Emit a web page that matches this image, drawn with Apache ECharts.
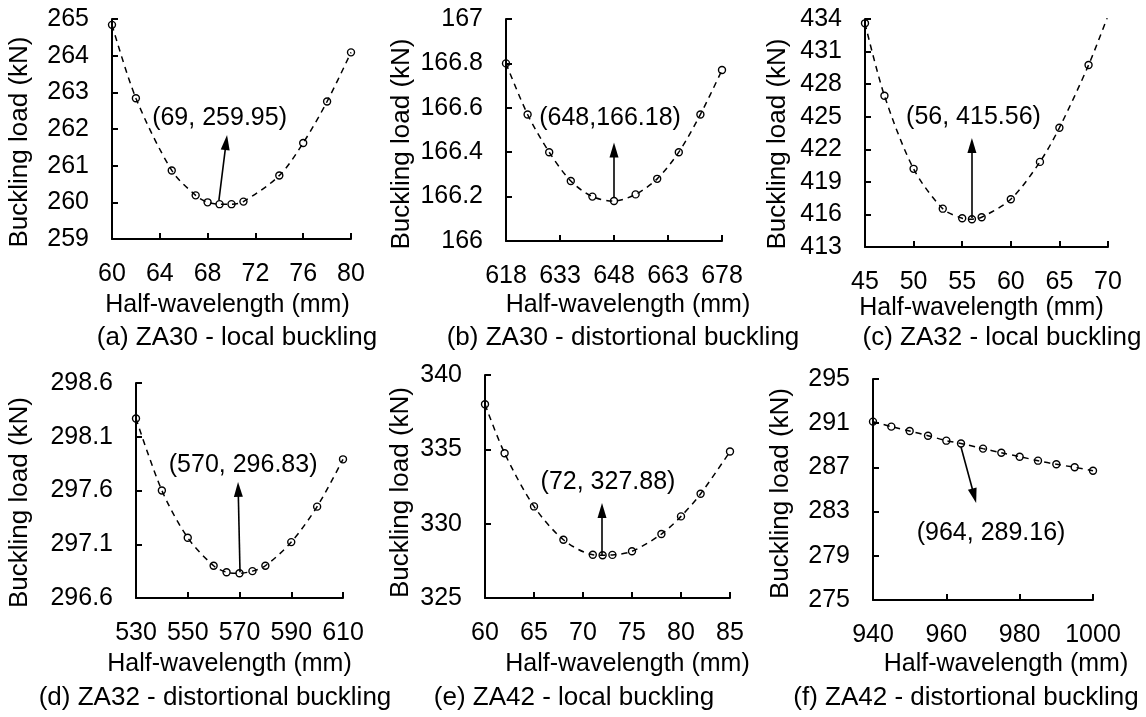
<!DOCTYPE html>
<html>
<head>
<meta charset="utf-8">
<script src="https://cdn.jsdelivr.net/npm/echarts@6/dist/echarts.min.js"></script>
<style>
  html, body { margin: 0; padding: 0; background: #fff; }
  #main { width: 1146px; height: 717px; }
</style>
</head>
<body>
<div id="main"></div>
<script>
// half-wavelength (mm) and buckling load (kN)
const aX = [60, 62, 65, 67, 68, 69, 70, 71, 74, 76, 78, 80];
const aY = [264.84, 262.84, 260.87, 260.19, 260.0, 259.95, 259.95, 260.02, 260.73, 261.62, 262.75, 264.09];

const bX = [618, 624, 630, 636, 642, 648, 654, 660, 666, 672, 678];
const bY = [166.80, 166.57, 166.40, 166.27, 166.20, 166.18, 166.21, 166.28, 166.40, 166.57, 166.77];

const cX = [45, 47, 50, 53, 55, 56, 57, 60, 63, 65, 68, 70];
const cY = [433.6, 426.93, 420.2, 416.53, 415.65, 415.56, 415.74, 417.4, 420.84, 423.98, 429.76, 434.3];

const dX = [530, 540, 550, 560, 565, 570, 575, 580, 590, 600, 610];
const dY = [298.27, 297.60, 297.16, 296.90, 296.84, 296.83, 296.85, 296.90, 297.12, 297.45, 297.89];

const eX = [60, 62, 65, 68, 71, 72, 73, 75, 78, 80, 82, 85];
const eY = [338.03, 334.74, 331.16, 328.92, 327.91, 327.88, 327.90, 328.14, 329.30, 330.49, 332.01, 334.85];

const fX = [940, 945, 950, 955, 960, 964, 970, 975, 980, 985, 990, 995, 1000];
const fY = [291.14, 290.69, 290.29, 289.87, 289.42, 289.16, 288.70, 288.33, 287.97, 287.61, 287.28, 287.01, 286.70];

// axis ranges: [min, max, interval]
const xRanges = [[60, 80, 4], [618, 678, 15], [45, 70, 5], [530, 610, 20], [60, 85, 5], [940, 1000, 20]];
const yRanges = [[259, 265, 1], [166, 167, 0.2], [413, 434, 3], [296.6, 298.6, 0.5], [325, 340, 5], [275, 295, 4]];

// minimum annotations: arrow tail, arrow head, label anchor (data units), label text
const noteTail = [[68.95, 260.06], [648, 166.198], [56, 415.67], [570.2, 296.84], [71.94, 327.9], [964, 288.85]];
const noteHead = [[69.55, 261.63], [648, 166.41], [56, 422.35], [569.5, 297.61], [71.94, 330.89], [967.6, 284.43]];
const noteAt = [[69.0, 262.3], [646.9, 166.554], [56.16, 424.97], [571.4, 297.84], [72.55, 332.8], [972.2, 281.06]];
const noteText = ['(69, 259.95)', '(648,166.18)', '(56, 415.56)', '(570, 296.83)', '(72, 327.88)', '(964, 289.16)'];

const captions = [
    '(a) ZA30 - local buckling',
    '(b) ZA30 - distortional buckling',
    '(c) ZA32 - local buckling',
    '(d) ZA32 - distortional buckling',
    '(e) ZA42 - local buckling',
    '(f) ZA42 - distortional buckling'
];

const xsList = [aX, bX, cX, dX, eX, fX];
const ysList = [aY, bY, cY, dY, eY, fY];

// panel placement (pixels)
const layout = [
    { left: 112, top: 19, width: 239, height: 220, yGap: 79, yShift: 13, xGap: 54, xShift: -4, cap: [237, 338] },
    { left: 506, top: 19, width: 216, height: 222, yGap: 91, yShift: 14, xGap: 52, xShift: 14, cap: [623, 338] },
    { left: 865, top: 19, width: 243, height: 228, yGap: 74, yShift: 11, xGap: 43, xShift: -5, cap: [1002, 338] },
    { left: 136, top: 383, width: 207, height: 215, yGap: 103, yShift: 12, xGap: 54, xShift: -10, cap: [215, 698] },
    { left: 485, top: 375, width: 245, height: 223, yGap: 71, yShift: 6, xGap: 54, xShift: 20, cap: [574, 698] },
    { left: 873, top: 379, width: 220, height: 221, yGap: 79, yShift: 4, xGap: 52, xShift: 23, cap: [966, 698] }
];

const FONT = "'Liberation Sans', Arial, sans-serif";
const FS = 25;

var chartDom = document.getElementById('main');
var myChart = echarts.init(chartDom, null, { renderer: 'canvas' });

function axisCommon() {
    return {
        type: 'value',
        axisLine: { show: true, onZero: false, lineStyle: { color: '#000', width: 2 } },
        axisTick: { show: true, inside: true, length: 6, lineStyle: { color: '#000', width: 2 } },
        splitLine: { show: false },
        axisLabel: {
            fontSize: FS, color: '#000', fontFamily: FONT, margin: 23,
            showMinLabel: true, showMaxLabel: true,
            formatter: function (v) { return String(v); }
        },
        nameLocation: 'middle'
    };
}

var grids = [], xAxes = [], yAxes = [], series = [], graphics = [];

layout.forEach(function (L, i) {
    grids.push({ left: L.left, top: L.top, width: L.width, height: L.height, outerBoundsMode: 'none' });

    var xa = axisCommon();
    xa.gridIndex = i;
    xa.min = xRanges[i][0]; xa.max = xRanges[i][1]; xa.interval = xRanges[i][2];
    xa.name = 'Half-wavelength (mm)';
    xa.nameGap = L.xGap;
    xa.nameTextStyle = {
        fontSize: FS, color: '#000', fontFamily: FONT,
        padding: L.xShift >= 0 ? [0, 0, 0, 2 * L.xShift] : [0, -2 * L.xShift, 0, 0]
    };
    xAxes.push(xa);

    var ya = axisCommon();
    ya.gridIndex = i;
    ya.min = yRanges[i][0]; ya.max = yRanges[i][1]; ya.interval = yRanges[i][2];
    ya.name = 'Buckling load (kN)';
    ya.nameGap = L.yGap;
    ya.nameTextStyle = { fontSize: 26, color: '#000', fontFamily: FONT, padding: [0, 2 * L.yShift, 0, 0] };
    yAxes.push(ya);

    var xs = xsList[i], ys = ysList[i];
    series.push({
        type: 'line',
        xAxisIndex: i,
        yAxisIndex: i,
        data: xs.map(function (x, k) { return [x, ys[k]]; }),
        smooth: 0.3,
        clip: true,
        showSymbol: true,
        showAllSymbol: true,
        symbol: 'circle',
        symbolSize: 7,
        itemStyle: { color: 'rgba(0,0,0,0)', borderColor: '#000', borderWidth: 1.4 },
        lineStyle: { color: '#000', width: 1.5, type: [6, 5] },
        emphasis: { disabled: true },
        markLine: {
            silent: true,
            animation: false,
            label: { show: false },
            lineStyle: { color: '#000', width: 1.6, type: 'solid' },
            data: [[
                { coord: noteTail[i], symbol: 'none' },
                { coord: noteHead[i], symbol: 'triangle', symbolSize: [9, 15] }
            ]]
        },
        markPoint: {
            silent: true,
            animation: false,
            symbol: 'circle',
            symbolSize: 1,
            itemStyle: { color: 'rgba(0,0,0,0)' },
            label: { show: true, position: 'inside', formatter: '{b}', fontSize: FS, color: '#000', fontFamily: FONT },
            data: [{ name: noteText[i], coord: noteAt[i] }]
        }
    });

    graphics.push({
        type: 'text',
        x: L.cap[0],
        y: L.cap[1],
        style: {
            text: captions[i],
            fill: '#000',
            font: '26px ' + FONT,
            textAlign: 'center',
            textVerticalAlign: 'middle'
        }
    });
});

var option = {
    animation: false,
    backgroundColor: '#fff',
    textStyle: { fontFamily: FONT },
    grid: grids,
    xAxis: xAxes,
    yAxis: yAxes,
    series: series,
    graphic: { elements: graphics }
};

myChart.setOption(option);
</script>
</body>
</html>
